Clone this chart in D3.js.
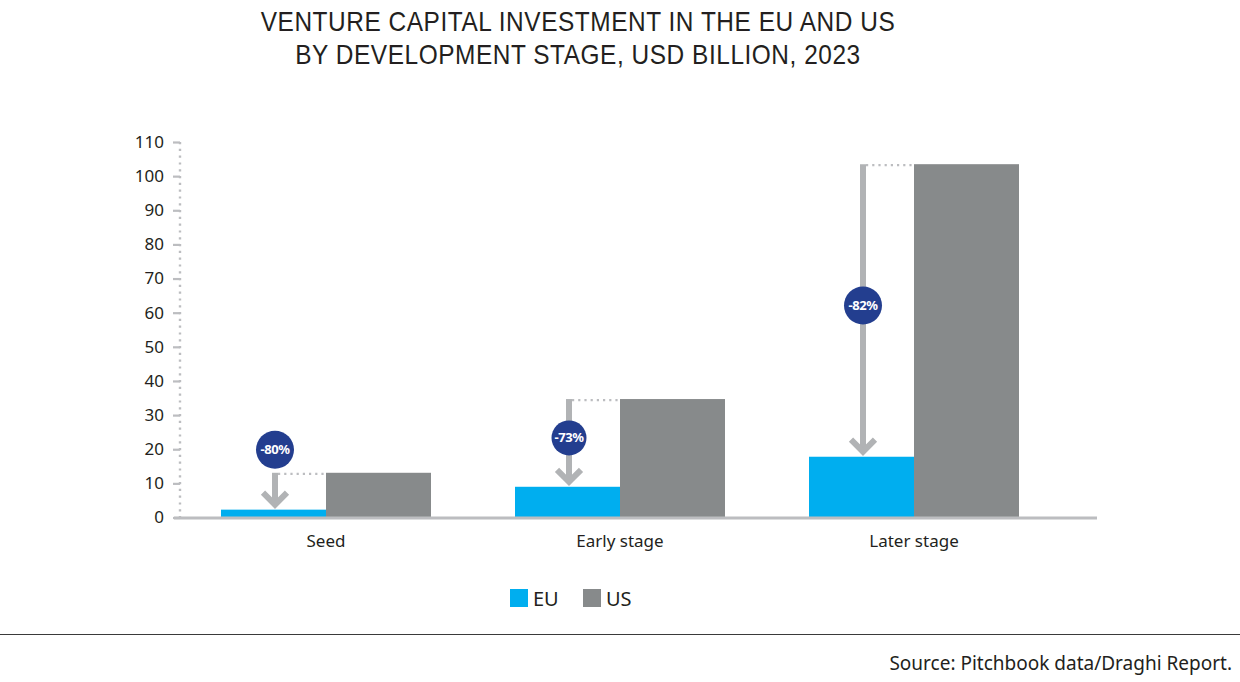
<!DOCTYPE html>
<html><head><meta charset="utf-8">
<script src="https://cdn.jsdelivr.net/npm/d3@7"></script>
<style>
html,body{margin:0;padding:0;background:#fff;}
svg{display:block;}
</style></head>
<body>
<svg id="chart" width="1240" height="682"></svg>
<script>
const categories = ["Seed", "Early stage", "Later stage"];
const seriesNames = ["EU", "US"];
const euValues = [2.3, 9.0, 17.8];
const usValues = [13.1, 34.7, 103.5];
const changeLabels = ["-80%", "-73%", "-82%"];
const yTicks = [0, 10, 20, 30, 40, 50, 60, 70, 80, 90, 100, 110];
const titleLines = ["VENTURE CAPITAL INVESTMENT IN THE EU AND US", "BY DEVELOPMENT STAGE, USD BILLION, 2023"];
const sourceText = "Source: Pitchbook data/Draghi Report.";

const colors = {EU: "#00aeef", US: "#878a8b"};
const badgeColor = "#233e8f";
const arrowColor = "#b1b3b5";
const axisColor = "#bcbdc0";
const textColor = "#231f20";
const font = "'Noto Sans', 'Open Sans', sans-serif";

const svg = d3.select("#chart");

const y = d3.scaleLinear().domain([0, 110]).range([517.5, 142]);
const x = d3.scaleBand().domain(categories).range([179, 1061]).padding(0);
const barW = 105;
const xi = d3.scaleBand().domain(seriesNames)
  .range([x.bandwidth() / 2 - barW, x.bandwidth() / 2 + barW]).padding(0);

// Title (condensed)
const tg = svg.append("g").attr("transform", "translate(578,0) scale(0.905,1)");
tg.selectAll("text").data(titleLines).join("text")
  .attr("x", 0).attr("y", (d, i) => 31 + i * 33)
  .attr("text-anchor", "middle")
  .attr("font-family", "'Liberation Sans Narrow', 'Liberation Sans', sans-serif")
  .attr("font-size", 27)
  .attr("letter-spacing", 0.6)
  .attr("fill", textColor)
  .text(d => d);

// Y axis
const yAxis = d3.axisLeft(y).tickValues(yTicks).tickSize(7).tickPadding(9);
const yg = svg.append("g").attr("transform", "translate(180,0)").call(yAxis);
yg.select(".domain").remove();
yg.selectAll(".tick line").attr("stroke", axisColor).attr("stroke-width", 2.2);
yg.selectAll(".tick text").attr("font-family", font).attr("font-size", 17).attr("fill", textColor);
svg.append("line")
  .attr("x1", 180).attr("x2", 180)
  .attr("y1", y(110)).attr("y2", y(0))
  .attr("stroke", axisColor).attr("stroke-width", 2.4)
  .attr("stroke-dasharray", "2.2,4.6");

// Bars
const rows = categories.map((c, i) => ({cat: c, EU: euValues[i], US: usValues[i], label: changeLabels[i]}));
const groups = svg.append("g").selectAll("g").data(rows).join("g")
  .attr("transform", d => `translate(${x(d.cat)},0)`);
groups.selectAll("rect").data(d => seriesNames.map(s => ({s, v: d[s]}))).join("rect")
  .attr("x", d => xi(d.s))
  .attr("width", xi.bandwidth())
  .attr("y", d => y(d.v))
  .attr("height", d => y(0) - y(d.v))
  .attr("fill", d => colors[d.s]);

// Baseline
svg.append("line")
  .attr("x1", 174).attr("x2", 1097)
  .attr("y1", y(0) + 0.5).attr("y2", y(0) + 0.5)
  .attr("stroke", axisColor).attr("stroke-width", 3);

// Arrows & badges
groups.each(function(d) {
  const g = d3.select(this);
  const ax = xi("EU") + xi.bandwidth() / 2 + 1.5;
  const yTop = y(d.US);
  const yTip = y(d.EU) - 2;
  g.append("line")
    .attr("x1", ax + 3).attr("x2", xi("US"))
    .attr("y1", yTop + 1).attr("y2", yTop + 1)
    .attr("stroke", axisColor).attr("stroke-width", 2.2)
    .attr("stroke-dasharray", "2.2,4");
  g.append("line")
    .attr("x1", ax).attr("x2", ax)
    .attr("y1", yTop).attr("y2", yTip - 3)
    .attr("stroke", arrowColor).attr("stroke-width", 6);
  g.append("path")
    .attr("d", `M${ax - 12},${yTip - 15} L${ax},${yTip - 3} L${ax + 12},${yTip - 15}`)
    .attr("fill", "none").attr("stroke", arrowColor).attr("stroke-width", 6)
    .attr("stroke-linejoin", "miter");
  const gap = yTip - yTop;
  const by = gap < 60 ? yTop - 23 : (yTop + yTip) / 2 - 4;
  const r = gap < 60 ? 19 : (gap < 120 ? 17.5 : 19);
  g.append("circle").attr("cx", ax).attr("cy", by).attr("r", r).attr("fill", badgeColor);
  g.append("text").attr("x", ax).attr("y", by + 4.5)
    .attr("text-anchor", "middle")
    .attr("font-family", font).attr("font-weight", "bold")
    .attr("font-size", 13).attr("fill", "#fff")
    .attr("letter-spacing", -0.4)
    .text(d.label);
});

// Category labels
svg.append("g").selectAll("text").data(categories).join("text")
  .attr("x", d => x(d) + x.bandwidth() / 2)
  .attr("y", 547)
  .attr("text-anchor", "middle")
  .attr("font-family", font).attr("font-size", 17)
  .attr("fill", textColor)
  .text(d => d);

// Legend
const legendX = [510, 583];
const lg = svg.append("g").selectAll("g").data(seriesNames).join("g")
  .attr("transform", (d, i) => `translate(${legendX[i]},589)`);
lg.append("rect").attr("width", 18).attr("height", 18).attr("fill", d => colors[d]);
lg.append("text").attr("x", 23).attr("y", 16.5)
  .attr("font-family", font).attr("font-size", 20)
  .attr("fill", textColor).text(d => d);

// Bottom rule
svg.append("line").attr("x1", 0).attr("x2", 1240)
  .attr("y1", 634.5).attr("y2", 634.5)
  .attr("stroke", "#3a3a3a").attr("stroke-width", 1);

// Source
svg.append("text").attr("x", 1232).attr("y", 670)
  .attr("text-anchor", "end")
  .attr("font-family", font).attr("font-size", 19)
  .attr("fill", textColor).text(sourceText);
</script>
</body></html>
